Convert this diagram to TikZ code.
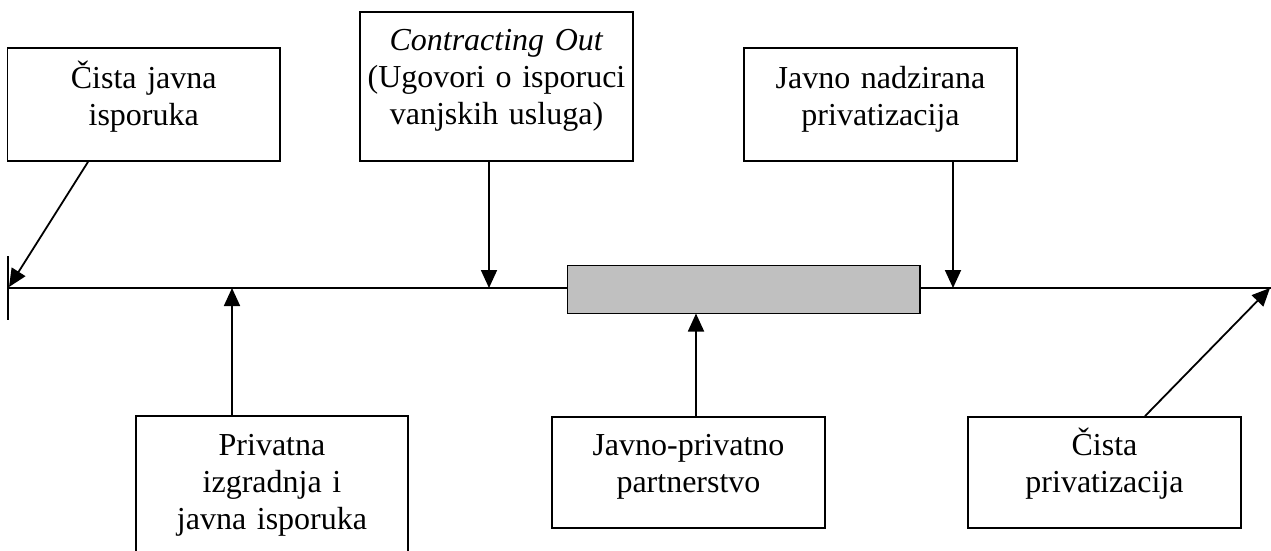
\documentclass[tikz,border=0pt]{standalone}
\usepackage{fontspec}
\setmainfont{Liberation Serif}
\usetikzlibrary{arrows.meta,calc}
\tikzset{
  box/.style={draw, line width=1.8pt, rectangle, inner sep=0pt},
  txt/.style={text width=270pt, align=center, inner sep=0pt, anchor=base,
    font=\fontsize{32}{37}\selectfont},
  conn/.style={line width=1.8pt, -{Triangle[length=18pt,width=16pt]}},
  axis/.style={line width=1.8pt}
}
\begin{document}
\begin{tikzpicture}[x=1pt,y=-1pt]
\useasboundingbox (0,0) rectangle (1271,550);
% main line
\coordinate (L) at (8,288);
\coordinate (R) at (1272,288);
\draw[axis] (L) -- (R);
\draw[axis] (8,256) -- (8,320);
% grey band
\node[box, fill={rgb,255:red,192;green,192;blue,192}, minimum width=352.5pt, minimum height=48pt] (band) at (743.75,289.5) {};
% boxes
\node[box, minimum width=272.5pt, minimum height=113pt] (b1) at (143.75,104.5) {};
\node[txt] (t1) at (143.75,88) {Čista javna\\isporuka};
\node[box, minimum width=273pt, minimum height=149pt] (b2) at (496.5,86.5) {};
\node[txt] (t2) at (496.5,50) {\textit{Contracting Out}\\(Ugovori o isporuci\\vanjskih usluga)};
\node[box, minimum width=273pt, minimum height=113pt] (b3) at (880.5,104.5) {};
\node[txt] (t3) at (880.5,88) {Javno nadzirana\\privatizacija};
\node[box, minimum width=272pt, minimum height=144pt] (b4) at (272,488) {};
\node[txt] (t4) at (272,455) {Privatna\\izgradnja i\\javna isporuka};
\node[box, minimum width=273pt, minimum height=111pt] (b5) at (688.5,472.5) {};
\node[txt] (t5) at (688.5,455) {Javno-privatno\\partnerstvo};
\node[box, minimum width=273pt, minimum height=111pt] (b6) at (1104.5,472.5) {};
\node[txt] (t6) at (1104.5,455) {Čista\\privatizacija};
% target points
\coordinate (p1) at (9,287);
\coordinate (p2) at (489,288);
\coordinate (p3) at (953,288);
\coordinate (p4) at (232,288);
\coordinate (p5) at (696,313.5);
\coordinate (p6) at (1270,288);
% connectors
\draw[conn] (b1.south west -| 88,0) -- (p1);
\draw[conn] (b2.south -| p2) -- (p2);
\draw[conn] (b3.south -| p3) -- (p3);
\draw[conn] (b4.north -| p4) -- (p4);
\draw[conn] (b5.north -| p5) -- (p5);
\draw[conn] (b6.north -| 1145,0) -- (p6);
\end{tikzpicture}
\end{document}
